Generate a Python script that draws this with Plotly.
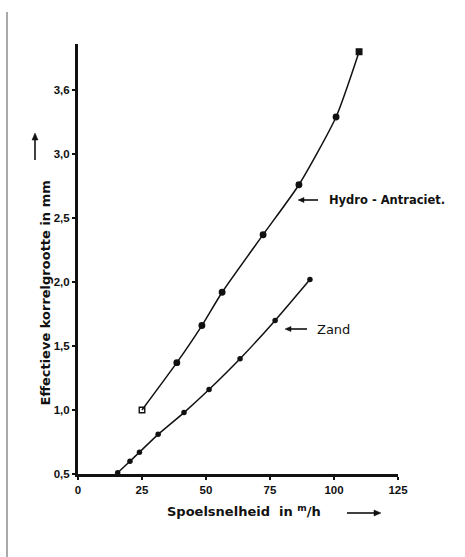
import math
import plotly.graph_objects as go

# Data
hydro_x = [25, 38.6, 48.4, 56.3, 72.3, 86.3, 100.8, 109.8]
hydro_y = [1.0, 1.37, 1.66, 1.92, 2.37, 2.76, 3.29, 3.80]
zand_x = [15.5, 20.3, 24.0, 31.3, 41.4, 51.2, 63.3, 77.0, 90.6]
zand_y = [0.51, 0.60, 0.67, 0.81, 0.98, 1.16, 1.40, 1.70, 2.02]

x_ticks = [0, 25, 50, 75, 100, 125]
y_ticks = [0.5, 1.0, 1.5, 2.0, 2.5, 3.0, 3.5]
y_labels = ["0,5", "1,0", "1,5", "2,0", "2,5", "3,0", "3,6"]

FONT = "Liberation Sans"
TFONT = "DejaVu Sans"
INK = "#111111"

# plot area in pixels
L, R, T, B = 78, 398, 44, 474


def px(x):
    return (x - L) / (R - L)


def py(y):
    return (B - y) / (B - T)


def arrow(x0, y0, x1, y1, head=7, half=3):
    """Arrow from pixel (x0,y0) to head at (x1,y1), as shapes."""
    dx, dy = x1 - x0, y1 - y0
    n = math.hypot(dx, dy)
    ux, uy = dx / n, dy / n
    bx, by = x1 - ux * head, y1 - uy * head
    pxl, pyl = bx - uy * half, by + ux * half
    pxr, pyr = bx + uy * half, by - ux * half
    line = dict(type="line", xref="paper", yref="paper",
                x0=px(x0), y0=py(y0), x1=px(bx), y1=py(by),
                line=dict(color=INK, width=1.6))
    tri = dict(type="path", xref="paper", yref="paper",
               path=f"M {px(x1)} {py(y1)} L {px(pxl)} {py(pyl)} L {px(pxr)} {py(pyr)} Z",
               fillcolor=INK, line=dict(color=INK, width=0.5))
    return [line, tri]


fig = go.Figure()

hydro_symbols = ["square-open"] + ["circle"] * (len(hydro_x) - 2) + ["square"]
fig.add_trace(go.Scatter(
    x=hydro_x, y=hydro_y, mode="lines+markers",
    line=dict(color=INK, width=1.5, shape="spline", smoothing=0.6),
    marker=dict(symbol=hydro_symbols, size=5.5, color=INK,
                line=dict(color=INK, width=1.4)),
    showlegend=False, cliponaxis=False))

fig.add_trace(go.Scatter(
    x=zand_x, y=zand_y, mode="lines+markers",
    line=dict(color=INK, width=1.5, shape="spline", smoothing=0.6),
    marker=dict(symbol="circle", size=5.5, color=INK),
    showlegend=False, cliponaxis=False))

fig.update_xaxes(
    range=[0, 125], tickvals=x_ticks, ticktext=[str(v) for v in x_ticks],
    showline=True, linecolor=INK, linewidth=3, showgrid=False, zeroline=False,
    ticks="outside", ticklen=3, tickwidth=1.5, tickcolor=INK,
    tickfont=dict(family=FONT, size=11.5, color=INK, weight="bold"))
fig.update_yaxes(
    range=[0.5, 3.86], tickvals=y_ticks, ticktext=y_labels,
    showline=True, linecolor=INK, linewidth=3, showgrid=False, zeroline=False,
    ticks="outside", ticklen=3, tickwidth=1.5, tickcolor=INK,
    tickfont=dict(family=FONT, size=11.5, color=INK, weight="bold"))

annos = []
# axis titles
annos.append(dict(xref="paper", yref="paper", x=px(35), y=py(293),
                  text="Effectieve korrelgrootte in mm", textangle=-90,
                  showarrow=False,
                  font=dict(family=TFONT, size=13, color=INK, weight="bold")))
annos.append(dict(xref="paper", yref="paper", x=px(244), y=py(521),
                  text="Spoelsnelheid  in <sup>m</sup>/h", showarrow=False,
                  font=dict(family=TFONT, size=13, color=INK, weight="bold")))
# series labels
annos.append(dict(x=97.3, y=2.64, text="Hydro - Antraciet.", showarrow=False,
                  xanchor="left",
                  font=dict(family=TFONT, size=11.5, color=INK, weight="bold")))
annos.append(dict(x=92.6, y=1.633, text="Zand", showarrow=False,
                  xanchor="left",
                  font=dict(family=TFONT, size=13, color=INK)))

shapes = [dict(type="line", xref="paper", yref="paper",
               x0=px(7), x1=px(7), y0=py(557), y1=py(12),
               line=dict(color="#555555", width=1))]
shapes += arrow(35, 160, 35, 133)
shapes += arrow(347, 513, 381, 513)
shapes += arrow(318, 200, 298, 200, head=6, half=2.5)
shapes += arrow(307, 329, 285, 329, head=6, half=2.5)

fig.update_layout(
    width=465, height=557,
    margin=dict(l=L, r=465 - R, t=T, b=557 - B),
    paper_bgcolor="white", plot_bgcolor="white",
    annotations=annos, shapes=shapes)

fig.write_html("out.html")
